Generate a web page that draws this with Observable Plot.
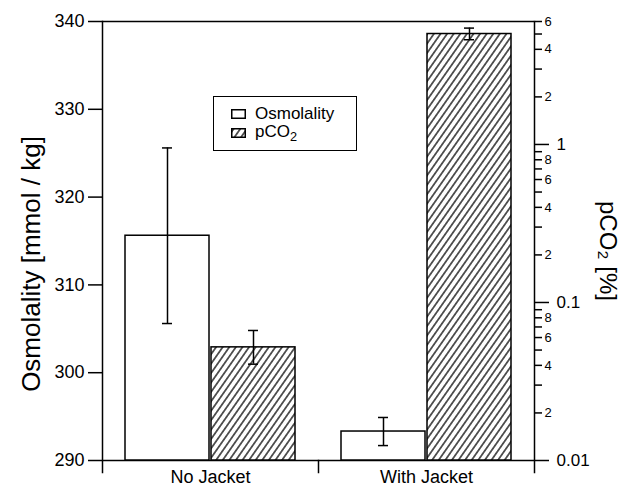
<!DOCTYPE html>
<html><head><meta charset="utf-8">
<script src="https://cdn.jsdelivr.net/npm/d3@7"></script>
<script src="https://cdn.jsdelivr.net/npm/@observablehq/plot@0.6"></script>
<style>
body{margin:0;background:#fff;}
#chart{position:relative;width:625px;height:487px;font-family:"Liberation Sans",Arial,sans-serif;}
#chart svg{position:absolute;left:0;top:0;}
#legend{position:absolute;left:213px;top:96px;width:144px;height:55px;border:1.5px solid #000;background:#fff;box-sizing:border-box;font-size:17px;color:#000;}
.item{position:absolute;left:17px;height:20px;display:flex;align-items:center;}
.item svg{position:static !important;margin-right:9px;}
</style></head>
<body><div id="chart"><div id="legend"></div></div>
<script>
// ---- data ----
const conditions = ["No Jacket", "With Jacket"];
const seriesNames = ["Osmolality", "pCO2"];
const seriesLabels = ["Osmolality", "pCO<sub style='font-size:0.75em'>2</sub>"];
const osmolality = [315.6, 293.3];
const osmolalityErr = [10.0, 1.6];
const pco2 = [0.052, 5.0];
const pco2Low = [0.0407, 4.6];
const pco2High = [0.0665, 5.45];
const osmTicks = [290, 300, 310, 320, 330, 340];
const pco2MajorTicks = [0.01, 0.1, 1];
const pco2MajorLabels = ["0.01", "0.1", "1"];
const pco2MinorTicks = [0.02,0.03,0.04,0.05,0.06,0.07,0.08,0.09, 0.2,0.3,0.4,0.5,0.6,0.7,0.8,0.9, 2,3,4,5,6];
const pco2MinorLabels = ["2","","4","","6","","8","", "2","","4","","6","","8","", "2","","4","","6"];
const osmDomain = [290, 340];
const pco2Domain = [0.01, 6];
const osmTitle = "Osmolality [mmol / kg]";
const pco2Title = "pCO\u2082 [%]";

const W = 625, H = 487;
const mL = 101, mR = 91, mT = 21, mB = 27;
const innerH = H - mT - mB;
const facetW = (W - mL - mR) / conditions.length;
const tickLen = 12;
const font = '"Liberation Sans", Arial, sans-serif';

const osmRows = conditions.map((c, i) => ({condition: c, series: seriesNames[0], value: osmolality[i], lo: osmolality[i] - osmolalityErr[i], hi: osmolality[i] + osmolalityErr[i]}));
const pRows = conditions.map((c, i) => ({condition: c, series: seriesNames[1], value: pco2[i], lo: pco2Low[i], hi: pco2High[i]}));
const majorRows = pco2MajorTicks.map((v, i) => ({v, label: pco2MajorLabels[i]}));
const minorRows = pco2MinorTicks.map((v, i) => ({v, label: pco2MinorLabels[i]}));
const lastFacet = () => conditions[conditions.length - 1];
const firstFacet = () => conditions[0];

const common = {
  width: W, height: H, marginLeft: mL, marginRight: mR, marginTop: mT, marginBottom: mB,
  x: {domain: seriesNames, paddingInner: 0.023, paddingOuter: 0.259, axis: null},
  style: {fontFamily: font, color: "black", background: "transparent", overflow: "visible"}
};
const capInset = 37;
const sw = 1.5;

const plotA = Plot.plot({
  ...common,
  fx: {domain: conditions, padding: 0},
  y: {domain: osmDomain},
  marks: [
    Plot.ruleY(osmDomain, {stroke: "black", strokeWidth: sw}),
    Plot.frame({anchor: "left", fx: firstFacet, insetBottom: -tickLen, stroke: "black", strokeWidth: sw}),
    Plot.frame({anchor: "right", fx: lastFacet, insetBottom: -tickLen, stroke: "black", strokeWidth: sw}),
    Plot.frame({anchor: "left", fx: lastFacet, insetTop: innerH, insetBottom: -tickLen, stroke: "black", strokeWidth: sw}),
    Plot.barY(osmRows, {fx: "condition", x: "series", y1: osmDomain[0], y2: "value", fill: "white", stroke: "black", strokeWidth: sw}),
    Plot.ruleX(osmRows, {fx: "condition", x: "series", y1: "lo", y2: "hi", stroke: "black", strokeWidth: sw}),
    Plot.tickY(osmRows, {fx: "condition", x: "series", y: "lo", insetLeft: capInset, insetRight: capInset, stroke: "black", strokeWidth: sw}),
    Plot.tickY(osmRows, {fx: "condition", x: "series", y: "hi", insetLeft: capInset, insetRight: capInset, stroke: "black", strokeWidth: sw}),
    Plot.axisY(osmTicks, {anchor: "left", tickSize: 14, tickPadding: 4, fontSize: 18, strokeWidth: sw, label: null}),
    Plot.axisFx({anchor: "bottom", tickSize: 0, tickPadding: 10, fontSize: 18, label: null}),
    Plot.text([osmTitle], {fx: firstFacet, text: d => d, frameAnchor: "left", rotate: -90, dx: -71, dy: 23, textAnchor: "middle", lineAnchor: "middle", fontSize: 26})
  ]
});

const plotB = Plot.plot({
  ...common,
  fx: {domain: conditions, padding: 0, axis: null},
  y: {type: "log", domain: pco2Domain, axis: null},
  marks: [
    Plot.barY(pRows, {fx: "condition", x: "series", y1: pco2Domain[0], y2: "value", fill: "url(#hatch)", stroke: "black", strokeWidth: sw}),
    Plot.ruleX(pRows, {fx: "condition", x: "series", y1: "lo", y2: "hi", stroke: "black", strokeWidth: sw}),
    Plot.tickY(pRows, {fx: "condition", x: "series", y: "lo", insetLeft: capInset, insetRight: capInset, stroke: "black", strokeWidth: sw}),
    Plot.tickY(pRows, {fx: "condition", x: "series", y: "hi", insetLeft: capInset, insetRight: capInset, stroke: "black", strokeWidth: sw}),
    // right log axis: major ticks
    Plot.ruleY(majorRows, {fx: lastFacet, y: "v", insetLeft: facetW, insetRight: -15, stroke: "black", strokeWidth: sw}),
    Plot.text(majorRows, {fx: lastFacet, y: "v", text: "label", frameAnchor: "right", dx: 22, textAnchor: "start", fontSize: 17, fill: "black"}),
    // right log axis: minor ticks
    Plot.ruleY(minorRows, {fx: lastFacet, y: "v", insetLeft: facetW, insetRight: -8, stroke: "black", strokeWidth: sw}),
    Plot.text(minorRows.filter(d => d.label !== ""), {fx: lastFacet, y: "v", text: "label", frameAnchor: "right", dx: 10, textAnchor: "start", fontSize: 13, fill: "black"}),
    Plot.text([pco2Title], {fx: lastFacet, text: d => d, frameAnchor: "right", rotate: 90, dx: 73, dy: 10, textAnchor: "middle", lineAnchor: "middle", fontSize: 24})
  ]
});

function addHatch(svg, id) {
  const defs = d3.select(svg).insert("defs", ":first-child");
  const p = defs.append("pattern").attr("id", id).attr("patternUnits", "userSpaceOnUse")
    .attr("width", 5.4).attr("height", 10).attr("patternTransform", "rotate(35)");
  p.append("rect").attr("width", 5.4).attr("height", 10).attr("fill", "white");
  p.append("line").attr("x1", 2.7).attr("x2", 2.7).attr("y1", 0).attr("y2", 10).attr("stroke", "#000").attr("stroke-width", 1.25);
}
addHatch(plotB, "hatch");

const chart = document.getElementById("chart");
chart.insertBefore(plotA, chart.firstChild);
chart.insertBefore(plotB, plotA.nextSibling);

// legend
const legend = document.getElementById("legend");
seriesNames.forEach((s, i) => {
  const item = document.createElement("div");
  item.className = "item";
  item.style.top = (7 + i * 19) + "px";
  const sv = d3.create("svg").attr("width", 15).attr("height", 10);
  if (i === 1) {
    addHatch(sv.node(), "hatchLegend");
    sv.append("rect").attr("x", 0.75).attr("y", 0.75).attr("width", 13.5).attr("height", 8.5).attr("fill", "url(#hatchLegend)").attr("stroke", "black").attr("stroke-width", 1.5);
  } else {
    sv.append("rect").attr("x", 0.75).attr("y", 0.75).attr("width", 13.5).attr("height", 8.5).attr("fill", "white").attr("stroke", "black").attr("stroke-width", 1.5);
  }
  item.appendChild(sv.node());
  const t = document.createElement("span");
  t.innerHTML = seriesLabels[i];
  item.appendChild(t);
  legend.appendChild(item);
});
</script></body></html>
